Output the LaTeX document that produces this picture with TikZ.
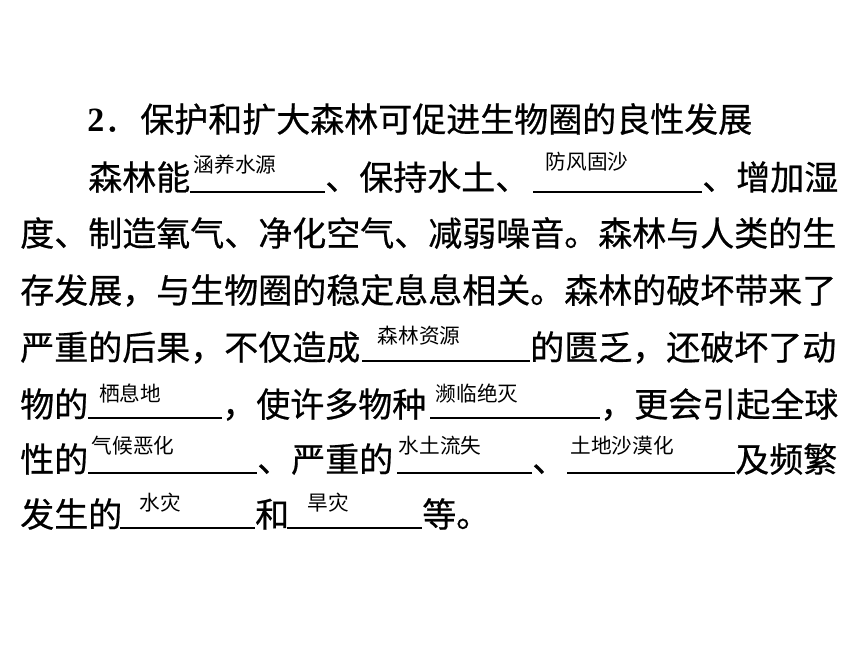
\documentclass[tikz,border=0pt]{standalone}
\usepackage{fontspec}
\newfontfamily\cjk[FakeBold=0.6]{Noto Sans CJK SC}
\newfontfamily\cjklight{Noto Sans CJK SC}
\newfontfamily\numfont{Liberation Serif}
\begin{document}
\begin{tikzpicture}[x=0.75pt,y=-0.75pt,
  txt/.style={anchor=base west,inner sep=0pt,font=\cjk\fontsize{25.5pt}{25.5pt}\selectfont},
  ans/.style={anchor=base,inner sep=0pt,font=\cjklight\fontsize{15.5pt}{15.5pt}\selectfont},
  blank/.style={line width=1.5pt}]
\useasboundingbox[fill=white] (0,0) rectangle (860,645);
% line 1
\node[anchor=base west,inner sep=0pt,font=\numfont\bfseries\fontsize{25.5pt}{25.5pt}\selectfont] (n2) at (87,132) {2};
\node[txt] (dot) at (104,132) {．};
\node[txt] (t1) at (140,132) {保护和扩大森林可促进生物圈的良性发展};
% line 2
\node[txt] (t2a) at (88,190) {森林能};
\draw[blank] (190,192) -- (325,192);
\node[ans] (a1) at (235,173) {涵养水源};
\node[txt] (t2b) at (325,190) {、保持水土、};
\draw[blank] (533,192) -- (702,192);
\node[ans] (a2) at (587,170) {防风固沙};
\node[txt] (t2c) at (702,190) {、增加湿};
% line 3
\node[txt] (t3) at (20,246) {度、制造氧气、净化空气、减弱噪音。森林与人类的生};
% line 4
\node[txt] (t4) at (20,303) {存发展，与生物圈的稳定息息相关。森林的破坏带来了};
% line 5
\node[txt] (t5a) at (20,360) {严重的后果，不仅造成};
\draw[blank] (362,361) -- (530,361);
\node[ans] (a3) at (419,343) {森林资源};
\node[txt] (t5b) at (530,360) {的匮乏，还破坏了动};
% line 6
\node[txt] (t6a) at (20,417) {物的};
\draw[blank] (88,418) -- (222,418);
\node[ans] (a4) at (130,401) {栖息地};
\node[txt] (t6b) at (222,417) {，使许多物种};
\draw[blank] (430,418) -- (600,418);
\node[ans] (a5) at (477,401) {濒临绝灭};
\node[txt] (t6c) at (600,417) {，更会引起全球};
% line 7
\node[txt] (t7a) at (20,472) {性的};
\draw[blank] (88,473) -- (257,473);
\node[ans] (a6) at (133,453) {气候恶化};
\node[txt] (t7b) at (257,472) {、严重的};
\draw[blank] (397,473) -- (532,473);
\node[ans] (a7) at (440,453) {水土流失};
\node[txt] (t7c) at (532,472) {、};
\draw[blank] (567,473) -- (735,473);
\node[ans] (a8) at (622,453) {土地沙漠化};
\node[txt] (t7d) at (735,472) {及频繁};
% line 8
\node[txt] (t8a) at (20,527) {发生的};
\draw[blank] (120,528) -- (255,528);
\node[ans] (a9) at (160,510) {水灾};
\node[txt] (t8b) at (255,527) {和};
\draw[blank] (287,528) -- (422,528);
\node[ans] (a10) at (328,510) {旱灾};
\node[txt] (t8c) at (422,527) {等。};
\end{tikzpicture}
\end{document}
